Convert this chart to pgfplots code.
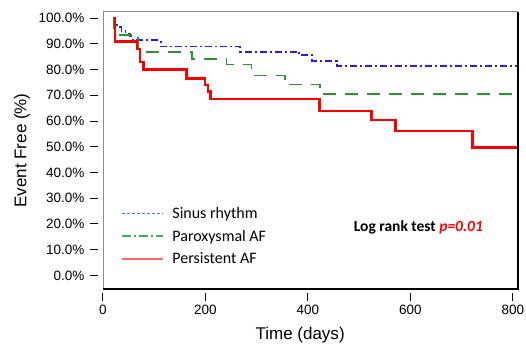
\documentclass[border=0pt]{standalone}
\usepackage{fontspec}
\setmainfont{Liberation Sans}
\newfontfamily\carlito{Carlito}
\usepackage{pgfplots}
\pgfplotsset{compat=1.18}
\definecolor{sbl}{RGB}{30,30,255}
\definecolor{sgr}{RGB}{40,150,40}
\definecolor{sre}{RGB}{255,0,0}
\definecolor{lbl}{RGB}{60,130,230}
\definecolor{lgr}{RGB}{40,190,90}
\definecolor{lre}{RGB}{255,100,100}
\begin{document}
\begin{tikzpicture}
\useasboundingbox (-103pt,-55pt) rectangle (423pt,289pt);
\begin{axis}[at={(0,0)}, anchor=south west, scale only axis,
  width=415pt, height=277pt,
  xmin=0, xmax=810, ymin=-5.3, ymax=102.4,
  xtick={0,200,400,600,800}, ytick={0,10,...,100},
  yticklabels={0.0\%,10.0\%,20.0\%,30.0\%,40.0\%,50.0\%,60.0\%,70.0\%,80.0\%,90.0\%,100.0\%},
  axis line style={draw=none},
  tick align=outside, major tick length=8pt,
  xtick pos=left, ytick pos=left,
  tick style={black, line width=1pt},
  every x tick/.append style={yshift=-4pt},
  every y tick/.append style={xshift=-5pt},
  tick label style={font=\fontsize{13.5}{15}\selectfont},
  yticklabel style={xshift=-7pt},
  xticklabel style={yshift=-5pt},
  /pgf/number format/assume math mode=true,
  xlabel={Time (days)}, ylabel={Event Free (\%)},
  label style={font=\fontsize{17}{20}\selectfont},
  xlabel style={at={(axis description cs:0.475,-0.166)}, anchor=center},
  ylabel style={at={(axis description cs:-0.195,0.5)}, anchor=center},
  legend style={at={(0.035,0.31)}, anchor=north west, draw=none, fill=none,
    font=\carlito\fontsize{16}{19}\selectfont, row sep=6pt, cells={anchor=west},
    /tikz/every odd column/.append style={column sep=7pt}},
]
\addplot[const plot, sbl, line width=1.8pt, dash pattern=on 7pt off 3pt on 2pt off 3pt, forget plot] coordinates {
 (20,100) (22,98) (28,96.5) (36,95) (44,94) (52,93) (58,91.5) (113,89) (268,87) (383,85.7) (408,83.3) (457,81.4) (810,81.4)};
\addplot[const plot, sgr, line width=1.8pt, dash pattern=on 13pt off 9pt, forget plot] coordinates {
 (20,100) (22,96) (30,93.5) (69,87) (173,84) (241,82) (290,77.7) (355,74.2) (424,70.4) (810,70.4)};
\addplot[const plot, sre, line width=2.5pt, forget plot] coordinates {
 (20,100) (23,91) (66,88) (72,83) (79,80) (163,76.6) (199,74) (205,71.4) (210,68.6) (423,64) (524,60.4) (571,56.1) (721,49.8) (810,49.8)};
\addlegendimage{legend image code/.code={\draw[lbl, line width=1.7pt, dash pattern=on 3.5pt off 1.5pt] (0pt,0pt) -- (41pt,0pt);}}
\addlegendentry{Sinus rhythm}
\addlegendimage{legend image code/.code={\draw[lgr, line width=1.7pt, dash pattern=on 9pt off 3pt on 2pt off 3pt] (0pt,0pt) -- (41pt,0pt);}}
\addlegendentry{Paroxysmal AF}
\addlegendimage{legend image code/.code={\draw[lre, line width=1.7pt] (0pt,0pt) -- (41pt,0pt);}}
\addlegendentry{Persistent AF}
\node[font=\carlito\bfseries\fontsize{15.5}{18}\selectfont] at (axis description cs:0.76,0.222) {Log rank test \textcolor{sre}{\itshape p=0.01}};
\end{axis}
\draw[black!45, line width=1pt] (current axis.south west) -- (current axis.north west) -- (current axis.north east);
\draw[black, line width=2pt] (current axis.north east) -- (current axis.south east) -- (current axis.south west);
\end{tikzpicture}
\end{document}
